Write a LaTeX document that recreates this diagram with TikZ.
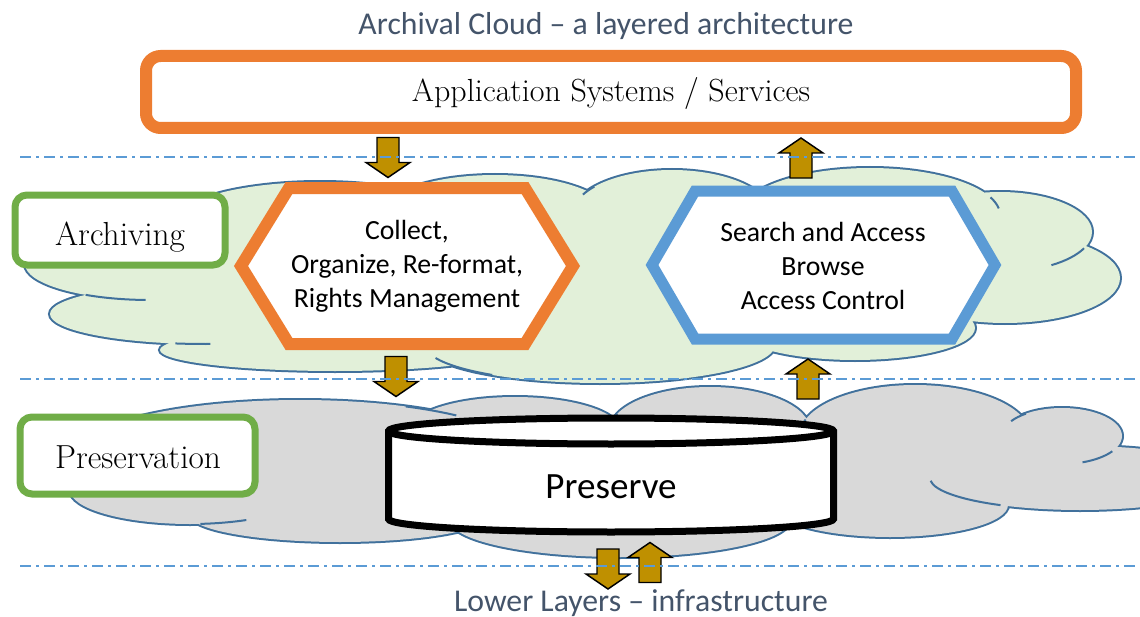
\documentclass[tikz,border=0pt]{standalone}
\usepackage{fontspec}
\newfontfamily\calibri{Carlito}
\definecolor{orng}{HTML}{ED7D31}
\definecolor{grn}{HTML}{70AD47}
\definecolor{blu}{HTML}{5B9BD5}
\definecolor{cloudedge}{HTML}{41719C}
\definecolor{greenfill}{HTML}{E2F0D9}
\definecolor{grayfill}{HTML}{D9D9D9}
\definecolor{arrowgold}{HTML}{BF9000}
\definecolor{slate}{HTML}{44546A}
\tikzset{
  layerline/.style={blu, line width=1.5pt, dash pattern=on 8.25pt off 3.75pt on 2.25pt off 3.75pt},
  cloudstroke/.style={draw=cloudedge, line width=3pt},
  innerarc/.style={draw=cloudedge, line width=1.5pt},
  labelbox/.style={draw=grn, line width=5.25pt, rounded corners=9pt, fill=white},
  blkarrow/.style={draw=black, fill=arrowgold, line width=1.1pt, line join=miter},
  sanstext/.style={font=\calibri\fontsize{20.8pt}{25.5pt}\selectfont, align=center, text=black},
  apptext/.style={font=\fontsize{24pt}{28pt}\selectfont, text=black, anchor=base},
  labeltext/.style={font=\fontsize{25pt}{29pt}\selectfont, text=black, anchor=base},
  headtext/.style={font=\calibri\fontsize{23.8pt}{28pt}\selectfont, text=slate, anchor=base},
  pics/downblk/.style={code={\draw[blkarrow] (-11,-20) -- (11,-20) -- (11,5) -- (22,5) -- (0,20) -- (-22,5) -- (-11,5) -- cycle;}},
  pics/upblk/.style={code={\draw[blkarrow] (-11,20) -- (11,20) -- (11,-5) -- (22,-5) -- (0,-20) -- (-22,-5) -- (-11,-5) -- cycle;}},
}
\newcommand\greenlobes[1]{%
  \path[#1] (150,264) ellipse [x radius=125, y radius=36]
    (205,314) ellipse [x radius=155, y radius=30]
    (335,350) ellipse [x radius=175, y radius=21]
    (600,345) ellipse [x radius=175, y radius=38]
    (855,328) ellipse [x radius=120, y radius=32]
    (1005,278) ellipse [x radius=115, y radius=45]
    (1000,232) ellipse [x radius=92, y radius=40]
    (870,215) ellipse [x radius=130, y radius=47]
    (672,215) ellipse [x radius=100, y radius=45]
    (495,215) ellipse [x radius=115, y radius=40]
    (320,225) ellipse [x radius=150, y radius=43];}
\newcommand\graylobes[1]{%
  \path[#1] (300,455) ellipse [x radius=225, y radius=55]
    (190,490) ellipse [x radius=120, y radius=34]
    (340,515) ellipse [x radius=150, y radius=27]
    (620,520) ellipse [x radius=170, y radius=37]
    (515,430) ellipse [x radius=105, y radius=33]
    (710,430) ellipse [x radius=100, y radius=43]
    (915,435) ellipse [x radius=115, y radius=50]
    (1062,436) ellipse [x radius=60, y radius=28]
    (1080,478) ellipse [x radius=150, y radius=32]
    (890,505) ellipse [x radius=118, y radius=32];}
% inner arc: centre x, centre y, x radius, y radius, start, end
\newcommand\innerpiece[6]{\draw[innerarc] ([shift={(#5:#3 and #4)}]#1,#2) arc[start angle=#5, end angle=#6, x radius=#3, y radius=#4];}
\begin{document}
\begin{tikzpicture}[x=0.75pt, y=-0.75pt]
\useasboundingbox (0,0) rectangle (1140,617);
\clip (0,0) rectangle (1140,617);
% gray cloud (preservation layer)
\graylobes{cloudstroke}
\graylobes{fill=grayfill}
\fill[grayfill] (630,470) ellipse [x radius=420, y radius=50];
\innerpiece{300}{455}{225}{55}{-62}{-46}
\innerpiece{190}{490}{120}{34}{85}{62}
\innerpiece{1062}{436}{60}{28}{33}{70}
\innerpiece{1080}{478}{150}{32}{122}{175}
\innerpiece{710}{430}{100}{43}{-158}{-170}
\innerpiece{915}{435}{115}{50}{-162}{-176}
\innerpiece{1062}{436}{60}{28}{-127}{-148}
% green cloud (archiving layer)
\greenlobes{cloudstroke}
\greenlobes{fill=greenfill}
\fill[greenfill] (560,270) ellipse [x radius=440, y radius=70];
\innerpiece{150}{264}{125}{36}{121}{92}
\innerpiece{205}{314}{155}{30}{101}{88}
\innerpiece{600}{345}{175}{38}{160}{128}
\innerpiece{1000}{232}{92}{40}{24}{56}
\innerpiece{672}{215}{100}{45}{-141}{-153}
\innerpiece{870}{215}{130}{47}{-142}{-152}
\innerpiece{870}{215}{130}{47}{-22}{-8}

% application box
\node[draw=orng, line width=9pt, rounded corners=11pt, fill=white, minimum width=930*0.75pt, minimum height=72*0.75pt] (app) at (611,92) {};
\node[apptext] (apptxt) at (611,102) {Application Systems / Services};

% hexagons
\draw[orng, line width=9pt, fill=white, line join=miter] (241,266) -- (289,188) -- (525,188) -- (573,266) -- (525,344) -- (289,344) -- cycle;
\node[sanstext] (collect) at (407,266) {Collect,\\Organize, Re-format,\\Rights Management};
\draw[blu, line width=8.25pt, fill=white, line join=miter] (652,265) -- (695,191) -- (952,191) -- (995,265) -- (952,339) -- (695,339) -- cycle;
\node[sanstext] (search) at (823,266) {Search and Access\\Browse\\Access Control};

% cylinder
\draw[black, line width=5.25pt, fill=white] (388.5,431) -- (388.5,519) arc[start angle=180, end angle=0, x radius=222.5, y radius=13] -- (833.5,431) arc[start angle=0, end angle=-180, x radius=222.5, y radius=13] -- cycle;
\draw[black, line width=5.25pt] (388.5,431) arc[start angle=180, end angle=0, x radius=222.5, y radius=13];
\node[font=\calibri\fontsize{27.8pt}{32pt}\selectfont] (preserve) at (611,487) {Preserve};

% layer labels
\node[labelbox, minimum width=210*0.75pt, minimum height=70*0.75pt] (archiving) at (120,230) {};
\node[labeltext] (archtxt) at (120,245) {Archiving};
\node[labelbox, minimum width=235*0.75pt, minimum height=77*0.75pt] (preservation) at (137.5,455.5) {};
\node[labeltext] (prestxt) at (138,468) {Preservation};

% block arrows
\pic at (388,157.5) {downblk};
\pic at (801,158) {upblk};
\pic at (396,376.5) {downblk};
\pic at (808,379) {upblk};
\pic at (608,569) {downblk};
\pic at (650,562.5) {upblk};

% layer boundaries
\coordinate (l1a) at (20,157); \coordinate (l1b) at (1140,157);
\coordinate (l2a) at (20,379); \coordinate (l2b) at (1140,379);
\coordinate (l3a) at (20,566); \coordinate (l3b) at (1140,566);
\draw[layerline] (l1a) -- (l1b);
\draw[layerline] (l2a) -- (l2b);
\draw[layerline] (l3a) -- (l3b);

% titles
\node[headtext] (title) at (606,35) {Archival Cloud – a layered architecture};
\node[headtext] (lower) at (641,611) {Lower Layers – infrastructure};
\end{tikzpicture}
\end{document}
